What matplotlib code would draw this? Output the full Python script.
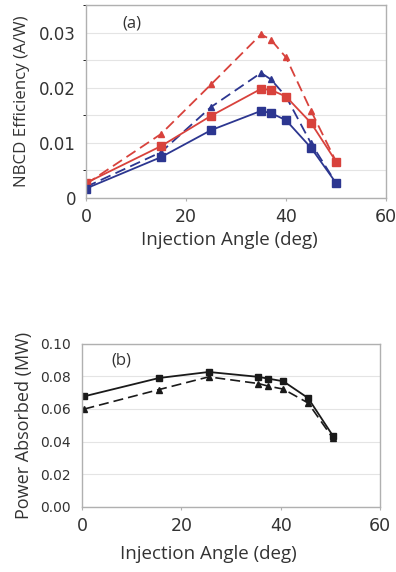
import matplotlib
matplotlib.use("Agg")
import matplotlib.pyplot as plt

plt.rcParams['font.family'] = ['Open Sans', 'DejaVu Sans']

# panel (a): NBCD efficiency
angle_a = [0, 15, 25, 35, 37, 40, 45, 50]
red_dashed = [0.0025, 0.0116, 0.0206, 0.0297, 0.0287, 0.0255, 0.0158, 0.0066]
blue_dashed = [0.0020, 0.0083, 0.0165, 0.0227, 0.0215, 0.0184, 0.0099, 0.0027]
red_solid = [0.0027, 0.0094, 0.0149, 0.0198, 0.0196, 0.0184, 0.0136, 0.0066]
blue_solid = [0.0017, 0.0074, 0.0123, 0.0158, 0.0154, 0.0141, 0.0091, 0.0027]

# panel (b): power absorbed
angle_b = [0.5, 15.5, 25.5, 35.5, 37.5, 40.5, 45.5, 50.5]
power_solid = [0.0678, 0.0790, 0.0827, 0.0797, 0.0786, 0.0770, 0.0667, 0.0435]
power_dashed = [0.0600, 0.0719, 0.0797, 0.0756, 0.0740, 0.0722, 0.0637, 0.0420]

red = '#d8423c'
blue = '#2c3690'
grid_col = '#e4e4e4'
spine_col = '#b0b0b0'
text_col = '#333333'
tick_font = 'DejaVu Sans'

fig = plt.figure(figsize=(3.96, 5.72), dpi=100)

ax1 = fig.add_axes([0.217, 0.654, 0.758, 0.337])
ax1.plot(angle_a, red_dashed, '--', color=red, marker='^', ms=5, lw=1.3, dashes=(6, 3))
ax1.plot(angle_a, blue_dashed, '--', color=blue, marker='^', ms=5, lw=1.3, dashes=(6, 3))
ax1.plot(angle_a, red_solid, '-', color=red, marker='s', ms=5.5, lw=1.3)
ax1.plot(angle_a, blue_solid, '-', color=blue, marker='s', ms=5.5, lw=1.3)
ax1.set_xlim(0, 60)
ax1.set_ylim(0, 0.035)
ax1.set_xticks([0, 20, 40, 60])
ax1.set_yticks([0, 0.01, 0.02, 0.03])
ax1.set_yticklabels(['0', '0.01', '0.02', '0.03'])
ax1.set_yticks([0.005, 0.015, 0.025, 0.035], minor=True)
ax1.grid(True, which='both', axis='y', color=grid_col, lw=0.8)
ax1.set_axisbelow(True)
ax1.text(7.2, 0.0309, '(a)', fontsize=12, color=text_col)
ax1.set_xlabel('Injection Angle (deg)', fontsize=13.5, color=text_col)
ax1.set_ylabel('NBCD Efficiency (A/W)', fontsize=12.2, color=text_col)
ax1.xaxis.set_label_coords(0.477, -0.172)
ax1.yaxis.set_label_coords(-0.185, 0.5)

ax2 = fig.add_axes([0.207, 0.114, 0.753, 0.285])
ax2.plot(angle_b, power_solid, '-', color='#1a1a1a', marker='s', ms=5, lw=1.3)
ax2.plot(angle_b, power_dashed, '--', color='#1a1a1a', marker='^', ms=4.5, lw=1.2, dashes=(6, 3))
ax2.set_xlim(0, 60)
ax2.set_ylim(0, 0.10)
ax2.set_xticks([0, 20, 40, 60])
ax2.set_yticks([0, 0.02, 0.04, 0.06, 0.08, 0.10])
ax2.set_yticklabels(['0.00', '0.02', '0.04', '0.06', '0.08', '0.10'])
ax2.grid(True, axis='y', color=grid_col, lw=0.8)
ax2.set_axisbelow(True)
ax2.text(6.0, 0.087, '(b)', fontsize=12, color=text_col)
ax2.set_xlabel('Injection Angle (deg)', fontsize=13.5, color=text_col)
ax2.set_ylabel('Power Absorbed (MW)', fontsize=13, color=text_col)
ax2.xaxis.set_label_coords(0.423, -0.235)
ax2.yaxis.set_label_coords(-0.164, 0.5)

for ax, ysize, xsize, ypad in [(ax1, 12, 12.5, 7), (ax2, 10, 12.5, 8)]:
    for s in ax.spines.values():
        s.set_color(spine_col)
        s.set_linewidth(1.0)
    ax.tick_params(axis='y', length=0, pad=ypad, labelsize=ysize, labelcolor=text_col)
    ax.tick_params(axis='x', length=2.5, color=spine_col, pad=5, labelsize=xsize, labelcolor=text_col)
    for lab in ax.get_xticklabels() + ax.get_yticklabels():
        lab.set_family(tick_font)

fig.savefig('out.png', dpi=100)
